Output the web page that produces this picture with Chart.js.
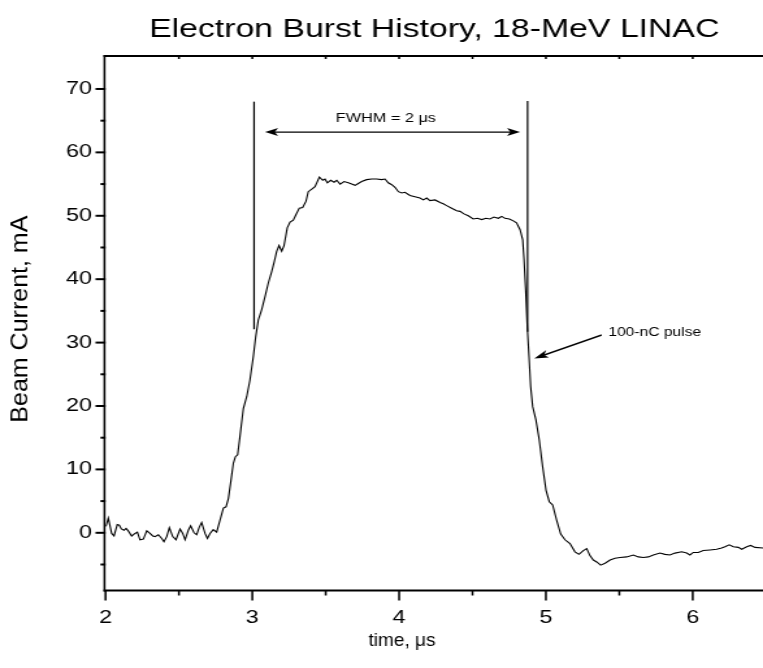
<!DOCTYPE html>
<html><head><meta charset="utf-8">
<script src="https://cdn.jsdelivr.net/npm/chart.js@4/dist/chart.umd.min.js"></script>
<style>
html,body{margin:0;padding:0;background:#fff;overflow:hidden;width:763px;height:668px;}
#c{display:block;transform-origin:0 0;transform:scaleX(1.29983);}
</style></head><body>
<canvas id="c" width="587" height="668"></canvas>
<script>
// ---- data ----
const timeUs = [2.003,2.019,2.042,2.058,2.080,2.094,2.108,2.126,2.140,2.155,2.178,2.201,2.217,2.235,2.258,2.281,2.303,2.322,2.337,2.360,2.383,2.398,2.417,2.435,2.458,2.480,2.508,2.526,2.542,2.564,2.580,2.603,2.621,2.639,2.655,2.678,2.694,2.712,2.734,2.757,2.780,2.803,2.821,2.837,2.853,2.871,2.885,2.900,2.916,2.939,2.962,2.984,3.007,3.023,3.041,3.064,3.087,3.109,3.132,3.150,3.166,3.182,3.200,3.216,3.238,3.257,3.279,3.298,3.320,3.343,3.366,3.381,3.405,3.427,3.457,3.480,3.495,3.511,3.534,3.557,3.575,3.598,3.625,3.654,3.677,3.700,3.722,3.745,3.779,3.813,3.847,3.881,3.904,3.926,3.950,3.972,3.995,4.018,4.040,4.074,4.108,4.142,4.165,4.188,4.210,4.245,4.279,4.301,4.324,4.358,4.392,4.415,4.442,4.471,4.505,4.533,4.563,4.592,4.619,4.646,4.676,4.699,4.721,4.751,4.778,4.800,4.824,4.842,4.851,4.862,4.873,4.885,4.896,4.910,4.932,4.955,4.978,5.001,5.023,5.046,5.073,5.101,5.130,5.164,5.198,5.225,5.255,5.278,5.300,5.323,5.346,5.373,5.403,5.437,5.471,5.505,5.550,5.596,5.630,5.664,5.698,5.732,5.777,5.811,5.845,5.879,5.925,5.959,5.981,6.004,6.038,6.072,6.118,6.163,6.197,6.220,6.249,6.277,6.311,6.334,6.368,6.395,6.425,6.480];
const currentMA = [1.0,2.3,-0.1,-0.5,1.3,1.2,0.6,0.4,0.7,0.3,-0.5,-0.1,0.1,-1.1,-1.0,0.3,-0.1,-0.5,-0.6,-0.3,-0.9,-1.4,-0.6,0.8,-0.6,-1.1,0.6,-0.1,-1.1,0.4,1.1,0.0,-0.3,0.9,1.6,-0.1,-0.9,-0.1,0.5,0.1,2.0,3.9,4.1,5.4,8.0,11.0,12.0,12.3,15.2,19.6,21.5,24.1,27.8,30.9,33.6,35.2,37.3,39.4,41.2,42.8,44.4,45.3,44.4,45.3,48.1,49.0,49.3,50.2,51.2,51.3,52.3,53.8,54.2,54.6,56.1,55.6,55.8,55.2,55.6,55.3,55.6,55.0,55.4,55.2,55.0,54.8,55.1,55.4,55.7,55.8,55.8,55.7,55.8,55.2,54.9,54.5,53.8,53.6,53.7,53.2,53.0,52.8,52.5,52.8,52.4,52.5,52.1,51.9,51.6,51.2,50.8,50.7,50.3,50.0,49.5,49.6,49.4,49.6,49.5,49.8,49.6,49.9,49.6,49.5,49.2,48.9,47.8,46.2,43.1,38.3,32.5,27.8,23.1,19.9,17.8,14.6,10.4,6.7,4.9,4.4,2.0,-0.2,-1.1,-1.7,-3.0,-3.4,-2.8,-2.5,-3.6,-4.3,-4.6,-5.1,-4.8,-4.3,-4.0,-3.9,-3.8,-3.5,-3.8,-3.9,-3.8,-3.5,-3.2,-3.4,-3.5,-3.2,-3.0,-3.2,-3.5,-3.1,-3.1,-2.8,-2.7,-2.6,-2.4,-2.2,-1.9,-2.2,-2.3,-2.6,-2.2,-2.0,-2.3,-2.4];

const xMajorTicks = [2,3,4,5,6];
const xMinorTicks = [2.5,3.5,4.5,5.5];
const yMajorTicks = [0,10,20,30,40,50,60,70];
const yMinorTicks = [-5,5,15,25,35,45,55,65];
const xRange = [2,6.479];
const yRange = [-9.1,75.2];

const chartTitle = 'Electron Burst History, 18-MeV LINAC';
const xTitle = 'time, \u03bcs';
const yTitle = 'Beam Current, mA';
const fwhmLabel = 'FWHM = 2 \u03bcs';
const pulseLabel = '100-nC pulse';

// annotation anchors, in data units
const fwhmMarkerX = [3.012, 4.875];
const fwhmMarkerLow = [32.1, 31.7];
const fwhmMarkerHigh = [68.0, 68.1];
const fwhmArrowX = [3.087, 4.824];
const fwhmArrowY = 63.2;
const fwhmLabelAt = [3.91, 65.3];
const pulseLabelAt = [5.425, 31.6];
const pulseArrowFrom = [5.38, 31.2];
const pulseArrowTo = [4.921, 27.5];
const xTitleAt = 4.02;
const yTitleAt = 33.7;

// ---- rendering ----
const SX = 763/587; // horizontal stretch of the picture
const FONT = '"Liberation Sans", Arial, Helvetica, sans-serif';
Chart.defaults.color = '#000';
Chart.defaults.font.family = FONT;

function arrowHead(ctx, x1, y1, x2, y2, len, half) {
  const a = Math.atan2(y2 - y1, x2 - x1);
  const c = Math.cos(a), s = Math.sin(a);
  const bx = x2 - c*len, by = y2 - s*len;
  const nx = x2 - c*len*0.75, ny = y2 - s*len*0.75;
  ctx.beginPath();
  ctx.moveTo(x2, y2);
  ctx.lineTo(bx - s*half, by + c*half);
  ctx.lineTo(nx, ny);
  ctx.lineTo(bx + s*half, by - c*half);
  ctx.closePath();
  ctx.fill();
}

const framePlugin = {
  id: 'frame',
  afterDraw(chart) {
    const {ctx, chartArea: a, scales: {x, y}} = chart;
    ctx.save();
    ctx.fillStyle = '#000';
    const vw = 2/SX;
    ctx.fillRect(a.left - vw, a.top - 1, vw, a.bottom - a.top + 2);
    ctx.fillRect(a.left - vw, a.bottom - 1, a.right - a.left + vw, 2);
    ctx.fillRect(a.left - vw, a.top - 1, a.right - a.left + vw, 2);
    yMajorTicks.forEach(v => { const p = y.getPixelForValue(v); ctx.fillRect(a.left - 10/SX, p - 1, 10/SX, 2); });
    yMinorTicks.forEach(v => { const p = y.getPixelForValue(v); ctx.fillRect(a.left - 5/SX, p - 1, 5/SX, 2); });
    xMajorTicks.forEach(v => { const p = x.getPixelForValue(v); ctx.fillRect(p - vw/2, a.bottom, vw, 10); });
    xMinorTicks.forEach(v => { const p = x.getPixelForValue(v); ctx.fillRect(p - vw/2, a.bottom, vw, 5); });
    xMajorTicks.concat(xMinorTicks).forEach(v => { if (v > xRange[0]) { const p = x.getPixelForValue(v); ctx.fillRect(p - vw/2, a.top, vw, 3); } });

    // annotation text (stretched like the plot text)
    ctx.textAlign = 'center';
    ctx.textBaseline = 'middle';
    ctx.font = '12.5px ' + FONT;
    ctx.fillText(fwhmLabel, x.getPixelForValue(fwhmLabelAt[0]), y.getPixelForValue(fwhmLabelAt[1]));
    ctx.font = '12px ' + FONT;
    ctx.textAlign = 'left';
    ctx.fillText(pulseLabel, x.getPixelForValue(pulseLabelAt[0]), y.getPixelForValue(pulseLabelAt[1]));

    // everything below in reference pixel space (unstretched)
    ctx.scale(1/SX, 1);
    const X = v => x.getPixelForValue(v) * SX;
    const Y = v => y.getPixelForValue(v);

    // axis titles
    ctx.textAlign = 'center';
    ctx.font = '19px ' + FONT;
    ctx.fillText(xTitle, X(xTitleAt), 641);
    ctx.save();
    ctx.translate(20, Y(yTitleAt));
    ctx.rotate(-Math.PI/2);
    ctx.font = '25px ' + FONT;
    ctx.fillText(yTitle, 0, 0);
    ctx.restore();

    ctx.strokeStyle = '#000';
    ctx.lineWidth = 1.6;
    for (let i = 0; i < fwhmMarkerX.length; i++) {
      ctx.beginPath();
      ctx.moveTo(X(fwhmMarkerX[i]), Y(fwhmMarkerLow[i]));
      ctx.lineTo(X(fwhmMarkerX[i]), Y(fwhmMarkerHigh[i]));
      ctx.stroke();
    }
    const ax1 = X(fwhmArrowX[0]), ax2 = X(fwhmArrowX[1]), ay = Y(fwhmArrowY);
    ctx.lineWidth = 1.4;
    ctx.beginPath(); ctx.moveTo(ax1 + 6, ay); ctx.lineTo(ax2 - 6, ay); ctx.stroke();
    arrowHead(ctx, ax2, ay, ax1, ay, 13, 4);
    arrowHead(ctx, ax1, ay, ax2, ay, 13, 4);
    const px1 = X(pulseArrowFrom[0]), py1 = Y(pulseArrowFrom[1]);
    const px2 = X(pulseArrowTo[0]), py2 = Y(pulseArrowTo[1]);
    const ang = Math.atan2(py2 - py1, px2 - px1);
    ctx.beginPath(); ctx.moveTo(px1, py1); ctx.lineTo(px2 - Math.cos(ang)*6, py2 - Math.sin(ang)*6); ctx.stroke();
    arrowHead(ctx, px1, py1, px2, py2, 14, 4);
    ctx.restore();
  }
};

new Chart(document.getElementById('c'), {
  type: 'line',
  data: {
    datasets: [{
      label: 'Beam current',
      data: timeUs.map((t, i) => ({x: t, y: currentMA[i]})),
      borderColor: '#000',
      borderWidth: 1.1,
      pointRadius: 0,
      tension: 0,
      fill: false
    }]
  },
  options: {
    responsive: false,
    animation: false,
    devicePixelRatio: 1,
    layout: {padding: 0},
    plugins: {
      legend: {display: false},
      tooltip: {enabled: false},
      title: {
        display: true,
        text: chartTitle,
        fullSize: false,
        color: '#000',
        font: {size: 26, weight: 'normal', family: FONT},
        padding: {top: 14, bottom: 10.8}
      }
    },
    scales: {
      x: {
        type: 'linear',
        min: xRange[0], max: xRange[1],
        afterBuildTicks: s => { s.ticks = xMajorTicks.map(v => ({value: v})); },
        afterFit: s => { s.height = 668 - 590.5; },
        grid: {display: false, drawTicks: false},
        border: {display: false},
        ticks: {font: {size: 18}, padding: 17, autoSkip: false, maxRotation: 0, callback: v => String(v)}
      },
      y: {
        type: 'linear',
        min: yRange[0], max: yRange[1],
        afterBuildTicks: s => { s.ticks = yMajorTicks.map(v => ({value: v})); },
        afterFit: s => { s.width = 105.5/SX; },
        grid: {display: false, drawTicks: false},
        border: {display: false},
        ticks: {font: {size: 18}, padding: 10.5, autoSkip: false, callback: v => String(v)}
      }
    }
  },
  plugins: [framePlugin]
});
</script>
</body></html>
